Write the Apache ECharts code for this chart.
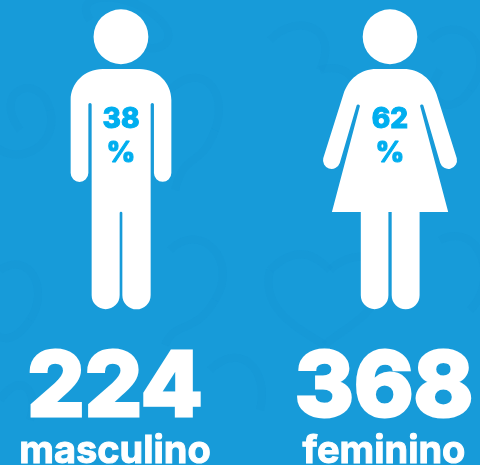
<!DOCTYPE html>
<html>
<head>
<meta charset="utf-8">
<style>
  html, body { margin: 0; padding: 0; background: #179bd9; }
  #chart { width: 480px; height: 465px; }
</style>
<script src="https://cdn.jsdelivr.net/npm/echarts@6/dist/echarts.min.js"></script>
</head>
<body>
<div id="chart"></div>
<script>
var categories = ['masculino', 'feminino'];
var percents = [38, 62];
var totals = [224, 368];

// figuras
var manPath = 'path://M121.3 9.3a27.4 27.4 0 1 1 0 54.8a27.4 27.4 0 1 1 0-54.8ZM103 69H140C158 69 171.7 83 171.7 100V173A8.7 8.7 0 0 1 154.3 173V104.5A1.65 1.65 0 0 0 151 104.5V295A14.15 14.15 0 0 1 122.7 295V213A1.35 1.35 0 0 0 120 213V295A14 14 0 0 1 92 295V104.5A1.65 1.65 0 0 0 88.7 104.5V173A8.85 8.85 0 0 1 71 173V100C71 83 85 69 103 69Z';
var womanPath = 'path://M390.3 9.3a27.4 27.4 0 1 1 0 54.8a27.4 27.4 0 1 1 0-54.8ZM376.7 69H404C420 69 432 79 437 94L457.3 158.1A8.65 8.65 0 0 1 440.7 162.9L423.8 105.5A1.7 1.7 0 0 0 420.5 105.9L448.7 211.7H420V295A14 14 0 0 1 392 295V211.7H388.7V295A13.85 13.85 0 0 1 361 295V211.7H332L360.1 105.9A1.7 1.7 0 0 0 356.8 105.5L339.9 162.9A8.65 8.65 0 0 1 323.3 158.1L343.6 94C348.6 79 360.6 69 376.7 69Z';

// fondo: x1, y1, cx1, cy1, cx2, cy2, x2, y2
var swirls = [
  [20, 130, -10, 90, 40, 70, 50, 110],
  [50, 110, 60, 150, 10, 170, -10, 140],
  [90, 20, 70, -10, 130, -10, 160, 20],
  [160, 20, 190, 50, 130, 60, 140, 30],
  [170, 90, 200, 60, 230, 90, 215, 130],
  [215, 130, 200, 170, 185, 150, 175, 190],
  [270, 40, 300, 10, 340, 30, 320, 70],
  [320, 70, 350, 60, 370, 90, 340, 110],
  [430, 40, 460, 10, 500, 50, 470, 90],
  [470, 90, 450, 120, 420, 100, 440, 70],
  [270, 270, 300, 240, 320, 260, 330, 270],
  [330, 270, 350, 250, 390, 250, 380, 290],
  [380, 290, 370, 320, 340, 330, 325, 345],
  [325, 345, 300, 330, 260, 310, 270, 270],
  [0, 270, 30, 250, 50, 290, 30, 320],
  [30, 320, 10, 350, -10, 340, -20, 310],
  [170, 250, 200, 220, 240, 260, 215, 300],
  [215, 300, 195, 335, 175, 320, 165, 345],
  [440, 240, 480, 220, 500, 280, 470, 310],
  [210, 370, 240, 340, 270, 370, 260, 410],
  [0, 400, 20, 370, 40, 390, 30, 420]
];

var myChart = echarts.init(document.querySelector('#chart'));

var option = {
  backgroundColor: '#179bd9',
  animation: false,
  graphic: swirls.map(function (c) {
    return {
      type: 'bezierCurve',
      silent: true,
      z: -1,
      shape: { x1: c[0], y1: c[1], cpx1: c[2], cpy1: c[3], cpx2: c[4], cpy2: c[5], x2: c[6], y2: c[7] },
      style: { fill: null, stroke: '#1594d3', lineWidth: 8, opacity: 0.35 }
    };
  }),
  grid: { left: -13.5, width: 538, top: 9.3, height: 300, outerBoundsMode: 'none' },
  xAxis: {
    type: 'category',
    data: categories,
    axisLine: { show: false },
    axisTick: { show: false },
    axisLabel: {
      interval: 0,
      margin: 40,
      formatter: function (name, i) {
        return '{num|' + totals[i] + '}\n{name|' + name + '}';
      },
      rich: {
        num: { fontFamily: 'Inter', fontWeight: 800, fontSize: 90, color: '#fff', lineHeight: 80, textBorderColor: '#fff', textBorderWidth: 3, padding: [0, 12, 0, 0] },
        name: { fontFamily: 'Inter', fontWeight: 700, fontSize: 38, color: '#fff', lineHeight: 44, textBorderColor: '#fff', textBorderWidth: 1, padding: [0, 12, 0, 0] }
      }
    }
  },
  yAxis: { type: 'value', min: 0, max: 100, show: false },
  series: [{
    type: 'pictorialBar',
    symbolPosition: 'start',
    symbolBoundingData: 100,
    label: {
      show: true,
      position: 'inside',
      offset: [0, -23],
      formatter: '{c}\n%',
      fontFamily: 'Inter',
      fontWeight: 800,
      fontSize: 28,
      lineHeight: 34,
      color: '#00aeef',
      textBorderColor: '#00aeef',
      textBorderWidth: 1
    },
    itemStyle: { color: '#fff' },
    data: [
      { value: percents[0], symbol: manPath, symbolSize: [100.7, 300] },
      { value: percents[1], symbol: womanPath, symbolSize: [134, 300] }
    ]
  }]
};

myChart.setOption(option);
</script>
</body>
</html>
